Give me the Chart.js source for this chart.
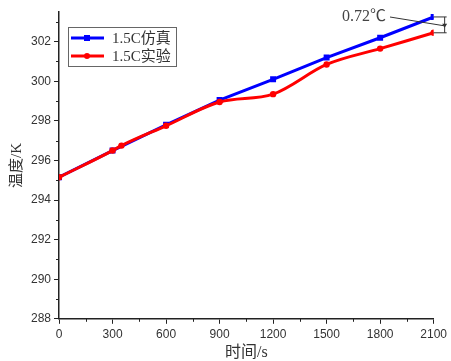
<!DOCTYPE html>
<html>
<head>
<meta charset="utf-8">
<script src="https://cdn.jsdelivr.net/npm/chart.js@4/dist/chart.umd.min.js"></script>
<style>
  body { margin: 0; background: #fff; }
  canvas { display: block; }
</style>
</head>
<body>
<canvas id="chart" width="451" height="361"></canvas>
<script>
// 数据
var timeSim = [0, 300, 600, 900, 1200, 1500, 1800, 2100];
var tempSim = [295.15, 296.5, 297.8, 299.05, 300.1, 301.2, 302.2, 303.25];
var timeExp = [0, 300, 350, 600, 900, 1200, 1500, 1800, 2100];
var tempExp = [295.15, 296.5, 296.75, 297.75, 298.95, 299.35, 300.85, 301.65, 302.45];
var labelSim = '1.5C仿真';
var labelExp = '1.5C实验';
var diffText = '0.72℃';

function toPoints(xs, ys) {
    var pts = [];
    for (var i = 0; i < xs.length; i++) {
        pts.push({ x: xs[i], y: ys[i] });
    }
    return pts;
}

var cjk = '"Liberation Serif", "Noto Sans CJK SC", serif';

// 次刻度、图例和标注
var extras = {
    id: 'extras',
    afterDraw: function(chart) {
        var ctx = chart.ctx;
        var xs = chart.scales.x, ys = chart.scales.y;
        var area = chart.chartArea;
        ctx.save();
        ctx.strokeStyle = '#222';
        ctx.lineWidth = 1;
        // 次刻度
        ctx.beginPath();
        for (var v = 150; v < 2100; v += 300) {
            var px = Math.round(xs.getPixelForValue(v)) + 0.5;
            ctx.moveTo(px, area.bottom);
            ctx.lineTo(px, area.bottom + 3);
        }
        for (var w = 289; w <= 303; w += 2) {
            var py = Math.round(ys.getPixelForValue(w)) + 0.5;
            ctx.moveTo(area.left, py);
            ctx.lineTo(area.left - 3, py);
        }
        ctx.stroke();

        // 图例
        ctx.strokeStyle = '#666';
        ctx.strokeRect(68.5, 27.5, 108, 39);
        var rows = [
            { y: 38, color: '#0000ff', label: labelSim, square: true },
            { y: 56, color: '#ff0000', label: labelExp, square: false }
        ];
        rows.forEach(function(r) {
            ctx.strokeStyle = r.color;
            ctx.fillStyle = r.color;
            ctx.lineWidth = 3;
            ctx.beginPath();
            ctx.moveTo(71, r.y);
            ctx.lineTo(104, r.y);
            ctx.stroke();
            if (r.square) {
                ctx.fillRect(84, r.y - 3, 6, 6);
            } else {
                ctx.beginPath();
                ctx.arc(87, r.y, 3, 0, Math.PI * 2);
                ctx.fill();
            }
            ctx.fillStyle = '#333';
            ctx.font = '15px ' + cjk;
            ctx.textBaseline = 'middle';
            ctx.fillText(r.label, 112, r.y + 1);
        });

        // 温差标注
        var xe = xs.getPixelForValue(2100);
        var yb = ys.getPixelForValue(tempSim[tempSim.length - 1]);
        var yr = ys.getPixelForValue(tempExp[tempExp.length - 1]);
        var xa = xe + 11;
        ctx.strokeStyle = '#333';
        ctx.fillStyle = '#333';
        ctx.lineWidth = 1;
        ctx.beginPath();
        ctx.moveTo(xe, yb); ctx.lineTo(xa + 2, yb);
        ctx.moveTo(xe, yr); ctx.lineTo(xa + 2, yr);
        ctx.moveTo(xa, yb); ctx.lineTo(xa, yr);
        ctx.moveTo(390, 17); ctx.lineTo(xa, (yb + yr) / 2 + 1);
        ctx.stroke();
        var ym = (yb + yr) / 2 + 3;
        ctx.beginPath();
        ctx.moveTo(xa - 2.5, ym - 4);
        ctx.lineTo(xa + 2.5, ym - 4);
        ctx.lineTo(xa, ym);
        ctx.closePath();
        ctx.fill();
        ctx.fillStyle = '#444';
        ctx.font = '16px ' + cjk;
        ctx.textBaseline = 'middle';
        ctx.fillText(diffText, 342, 17);
        ctx.restore();
    }
};

var ctx = document.getElementById('chart').getContext('2d');
var myChart = new Chart(ctx, {
    type: 'line',
    data: {
        datasets: [{
            label: labelSim,
            data: toPoints(timeSim, tempSim),
            borderColor: '#0000ff',
            backgroundColor: '#0000ff',
            borderWidth: 3,
            pointStyle: 'rect',
            pointRadius: 4.2,
            pointBorderWidth: 0,
            tension: 0,
            order: 1
        }, {
            label: labelExp,
            data: toPoints(timeExp, tempExp),
            borderColor: '#ff0000',
            backgroundColor: '#ff0000',
            borderWidth: 3,
            pointStyle: 'circle',
            pointRadius: 3.2,
            pointBorderWidth: 0,
            cubicInterpolationMode: 'monotone',
            order: 0
        }]
    },
    options: {
        responsive: false,
        animation: false,
        layout: { padding: { top: 12, right: 9, left: 8, bottom: 0 } },
        plugins: {
            legend: { display: false },
            tooltip: { enabled: false }
        },
        scales: {
            x: {
                type: 'linear',
                min: 0,
                max: 2100,
                border: { display: true, color: '#222', width: 1.5 },
                grid: { drawOnChartArea: false, tickLength: 5, color: '#222' },
                ticks: {
                    stepSize: 300,
                    color: '#333',
                    padding: 4,
                    font: { family: 'Liberation Sans', size: 12, lineHeight: 1.1 },
                    callback: function(value) { return String(value); }
                },
                title: {
                    display: true,
                    text: '时间/s',
                    color: '#333',
                    padding: { top: 0, bottom: 0 },
                    font: { family: cjk, size: 16, lineHeight: 1 }
                }
            },
            y: {
                min: 288,
                max: 303.5,
                border: { display: true, color: '#222', width: 1.5 },
                grid: { drawOnChartArea: false, tickLength: 5, color: '#222' },
                afterBuildTicks: function(axis) {
                    var t = [];
                    for (var v = 288; v <= 302; v += 2) t.push({ value: v });
                    axis.ticks = t;
                },
                ticks: {
                    color: '#333',
                    padding: 3,
                    font: { family: 'Liberation Sans', size: 12 }
                },
                title: {
                    display: true,
                    text: '温度/K',
                    color: '#333',
                    padding: { top: 0, bottom: 2 },
                    font: { family: cjk, size: 15 }
                }
            }
        }
    },
    plugins: [extras]
});
</script>
</body>
</html>
